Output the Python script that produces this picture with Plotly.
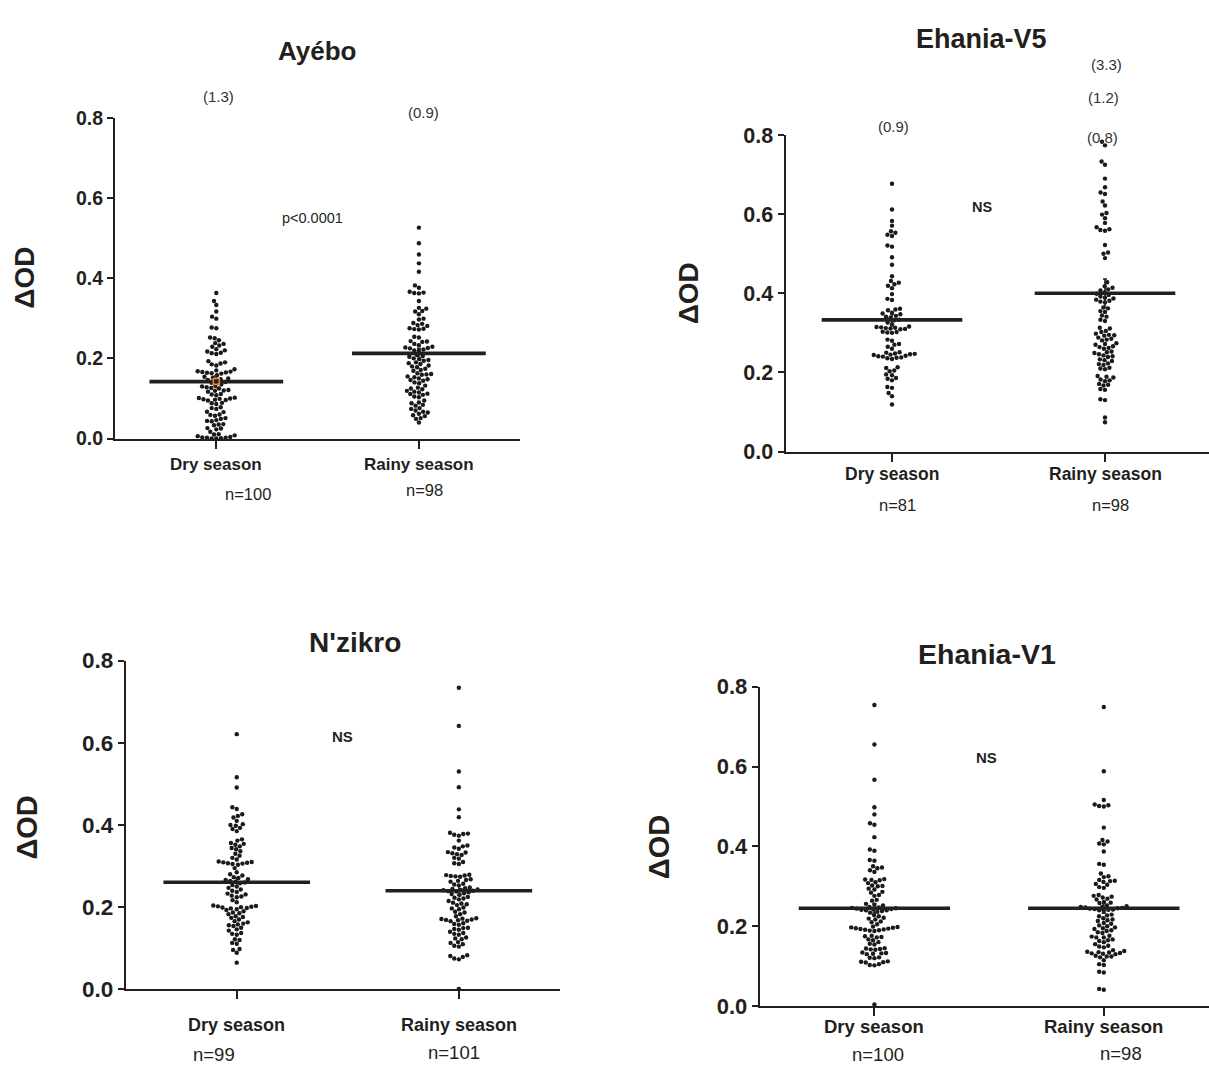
import numpy as np
import plotly.graph_objects as go

W, H = 1209, 1076

categories = ["Dry season", "Rainy season"]
sites = ["Ayébo", "Ehania-V5", "N'zikro", "Ehania-V1"]
tests = ["p<0.0001", "NS", "NS", "NS"]
y_ticks = [0.0, 0.2, 0.4, 0.6, 0.8]
y_tick_labels = ["0.0", "0.2", "0.4", "0.6", "0.8"]
y_title = "ΔOD"

ayebo_dry = [0.363, 0.343, 0.333, 0.317, 0.304, 0.299, 0.277, 0.275, 0.252, 0.250, 0.245, 0.238, 0.236, 0.232,
             0.229, 0.223, 0.220, 0.217, 0.214, 0.213, 0.211, 0.193, 0.190, 0.187, 0.185, 0.182, 0.173, 0.170,
             0.168, 0.167, 0.166, 0.165, 0.164, 0.163, 0.162, 0.158, 0.154, 0.152, 0.150, 0.148, 0.146, 0.144,
             0.141, 0.139, 0.135, 0.132, 0.130, 0.128, 0.126, 0.125, 0.121, 0.120, 0.119, 0.117, 0.111, 0.110,
             0.108, 0.102, 0.101, 0.100, 0.099, 0.098, 0.097, 0.096, 0.095, 0.089, 0.088, 0.086, 0.078, 0.076,
             0.074, 0.067, 0.066, 0.060, 0.059, 0.057, 0.051, 0.049, 0.046, 0.044, 0.043, 0.036, 0.035, 0.033,
             0.026, 0.025, 0.023, 0.017, 0.011, 0.010, 0.008, 0.006, 0.004, 0.003, 0.002, 0.002, 0.001, 0.000,
             0.000, 1.3]
ayebo_rainy = [0.526, 0.487, 0.459, 0.437, 0.416, 0.382, 0.376, 0.366, 0.364, 0.363, 0.362, 0.343, 0.326, 0.324,
               0.318, 0.317, 0.310, 0.299, 0.297, 0.288, 0.286, 0.283, 0.281, 0.275, 0.274, 0.273, 0.272, 0.254,
               0.252, 0.243, 0.242, 0.241, 0.236, 0.233, 0.229, 0.227, 0.226, 0.225, 0.222, 0.220, 0.219, 0.208,
               0.206, 0.204, 0.200, 0.198, 0.196, 0.194, 0.190, 0.188, 0.186, 0.182, 0.180, 0.178, 0.174, 0.171,
               0.169, 0.163, 0.161, 0.160, 0.159, 0.155, 0.153, 0.150, 0.148, 0.146, 0.144, 0.140, 0.138, 0.132,
               0.127, 0.125, 0.123, 0.119, 0.117, 0.115, 0.112, 0.111, 0.109, 0.105, 0.103, 0.095, 0.090, 0.088,
               0.084, 0.082, 0.076, 0.074, 0.070, 0.067, 0.065, 0.062, 0.058, 0.056, 0.051, 0.049, 0.040, 0.9]

v5_dry = [0.677, 0.612, 0.583, 0.571, 0.557, 0.553, 0.548, 0.545, 0.521, 0.518, 0.491, 0.472, 0.443, 0.431, 0.427,
          0.423, 0.419, 0.413, 0.398, 0.386, 0.383, 0.361, 0.359, 0.357, 0.351, 0.349, 0.347, 0.343, 0.341, 0.339,
          0.333, 0.332, 0.326, 0.322, 0.316, 0.315, 0.314, 0.313, 0.312, 0.311, 0.310, 0.309, 0.303, 0.302, 0.301,
          0.300, 0.283, 0.280, 0.272, 0.270, 0.265, 0.260, 0.251, 0.250, 0.248, 0.247, 0.246, 0.245, 0.244, 0.242,
          0.241, 0.240, 0.238, 0.237, 0.236, 0.234, 0.213, 0.211, 0.205, 0.203, 0.195, 0.193, 0.186, 0.184, 0.180,
          0.163, 0.161, 0.148, 0.140, 0.119, 0.9]
v5_rainy = [0.783, 0.774, 0.733, 0.725, 0.690, 0.668, 0.655, 0.651, 0.632, 0.622, 0.603, 0.599, 0.590, 0.578,
            0.567, 0.562, 0.560, 0.558, 0.522, 0.503, 0.500, 0.489, 0.428, 0.418, 0.414, 0.410, 0.407, 0.402,
            0.399, 0.396, 0.392, 0.389, 0.387, 0.384, 0.381, 0.379, 0.377, 0.364, 0.362, 0.355, 0.353, 0.344,
            0.341, 0.333, 0.330, 0.313, 0.311, 0.305, 0.302, 0.298, 0.295, 0.294, 0.293, 0.288, 0.285, 0.283,
            0.281, 0.274, 0.272, 0.270, 0.266, 0.264, 0.262, 0.260, 0.253, 0.251, 0.249, 0.246, 0.243, 0.241,
            0.239, 0.233, 0.231, 0.229, 0.223, 0.221, 0.219, 0.212, 0.210, 0.208, 0.191, 0.189, 0.187, 0.182,
            0.180, 0.178, 0.171, 0.169, 0.167, 0.158, 0.156, 0.132, 0.130, 0.086, 0.074, 0.84, 1.24, 3.34]

nzikro_dry = [0.621, 0.516, 0.491, 0.443, 0.439, 0.426, 0.422, 0.418, 0.410, 0.402, 0.400, 0.398, 0.393, 0.390,
              0.385, 0.365, 0.362, 0.356, 0.354, 0.352, 0.348, 0.344, 0.341, 0.336, 0.330, 0.325, 0.320, 0.316,
              0.311, 0.310, 0.309, 0.308, 0.307, 0.306, 0.305, 0.303, 0.295, 0.285, 0.280, 0.277, 0.273, 0.271,
              0.268, 0.266, 0.264, 0.262, 0.260, 0.258, 0.254, 0.250, 0.247, 0.243, 0.240, 0.237, 0.233, 0.231,
              0.228, 0.226, 0.224, 0.217, 0.212, 0.204, 0.203, 0.202, 0.201, 0.200, 0.199, 0.198, 0.197, 0.195,
              0.193, 0.190, 0.187, 0.185, 0.183, 0.178, 0.176, 0.174, 0.170, 0.166, 0.163, 0.160, 0.158, 0.156,
              0.154, 0.150, 0.146, 0.143, 0.137, 0.135, 0.133, 0.122, 0.120, 0.113, 0.111, 0.098, 0.096, 0.089,
              0.065]
nzikro_rainy = [0.734, 0.641, 0.530, 0.492, 0.438, 0.419, 0.381, 0.379, 0.378, 0.376, 0.374, 0.362, 0.350, 0.348,
                0.345, 0.342, 0.334, 0.333, 0.331, 0.329, 0.327, 0.320, 0.318, 0.310, 0.307, 0.305, 0.279, 0.278,
                0.277, 0.276, 0.275, 0.274, 0.268, 0.266, 0.264, 0.262, 0.257, 0.255, 0.253, 0.248, 0.246, 0.244,
                0.243, 0.242, 0.241, 0.240, 0.239, 0.238, 0.236, 0.234, 0.232, 0.230, 0.225, 0.223, 0.221, 0.219,
                0.215, 0.211, 0.209, 0.207, 0.205, 0.199, 0.197, 0.195, 0.189, 0.187, 0.183, 0.178, 0.173, 0.172,
                0.171, 0.170, 0.169, 0.168, 0.167, 0.166, 0.161, 0.159, 0.157, 0.150, 0.149, 0.147, 0.145, 0.140,
                0.137, 0.135, 0.133, 0.126, 0.124, 0.122, 0.115, 0.113, 0.110, 0.106, 0.104, 0.083, 0.081, 0.079,
                0.075, 0.073, 0.001]

v1_dry = [0.754, 0.655, 0.567, 0.498, 0.480, 0.458, 0.454, 0.423, 0.392, 0.389, 0.366, 0.364, 0.350, 0.347, 0.345,
          0.340, 0.336, 0.318, 0.317, 0.316, 0.315, 0.310, 0.308, 0.302, 0.301, 0.300, 0.294, 0.292, 0.286, 0.284,
          0.278, 0.276, 0.266, 0.264, 0.256, 0.254, 0.252, 0.248, 0.247, 0.246, 0.245, 0.244, 0.243, 0.242, 0.241,
          0.240, 0.240, 0.238, 0.236, 0.234, 0.228, 0.225, 0.221, 0.219, 0.217, 0.212, 0.210, 0.205, 0.199, 0.198,
          0.197, 0.196, 0.195, 0.194, 0.193, 0.192, 0.191, 0.190, 0.189, 0.188, 0.176, 0.175, 0.173, 0.172, 0.167,
          0.165, 0.160, 0.156, 0.154, 0.145, 0.144, 0.143, 0.142, 0.141, 0.134, 0.133, 0.132, 0.131, 0.130, 0.122,
          0.121, 0.120, 0.112, 0.111, 0.110, 0.109, 0.105, 0.103, 0.102, 0.004]
v1_rainy = [0.749, 0.588, 0.516, 0.505, 0.503, 0.501, 0.500, 0.447, 0.416, 0.412, 0.407, 0.405, 0.387, 0.356, 0.354,
            0.332, 0.325, 0.323, 0.316, 0.314, 0.313, 0.311, 0.306, 0.304, 0.298, 0.296, 0.278, 0.276, 0.274,
            0.272, 0.269, 0.267, 0.261, 0.259, 0.258, 0.252, 0.250, 0.249, 0.248, 0.247, 0.246, 0.245, 0.244,
            0.243, 0.242, 0.241, 0.240, 0.238, 0.229, 0.227, 0.225, 0.220, 0.217, 0.215, 0.213, 0.208, 0.206,
            0.202, 0.200, 0.197, 0.195, 0.193, 0.190, 0.188, 0.185, 0.183, 0.176, 0.174, 0.172, 0.172, 0.167,
            0.165, 0.163, 0.160, 0.155, 0.151, 0.149, 0.147, 0.140, 0.138, 0.136, 0.135, 0.134, 0.133, 0.132,
            0.131, 0.130, 0.126, 0.124, 0.124, 0.122, 0.115, 0.105, 0.103, 0.086, 0.084, 0.043, 0.041]

series = [(ayebo_dry, ayebo_rainy), (v5_dry, v5_rainy), (nzikro_dry, nzikro_rainy), (v1_dry, v1_rainy)]

# ---------------- layout geometry (pixels) ----------------
INK = "#231f20"
FONT = "Arial, 'Liberation Sans', sans-serif"
panels = [
    dict(ax=115.0, end=520.0, y0=436.7, y8=108.3, spacing=202.6, tick=19.5, cat=17, nf=16.5, tf=26,
         title=(317.5, 40), stat=(312, 211), stat_bold=False, stat_size=14.5, ylab=(25, 272), ylab_size=28,
         cat_y=463, n_pos=[(248, 493), (424, 489)], out_pos=[[(218, 87)], [(423, 103)]]),
    dict(ax=785.5, end=1209.0, y0=450.0, y8=126.0, spacing=213.0, tick=21.5, cat=17.5, nf=16.5, tf=27,
         title=(981.5, 28), stat=(982, 200), stat_bold=True, stat_size=14.5, ylab=(688, 288), ylab_size=28,
         cat_y=473, n_pos=[(897, 505), (1110, 505)], out_pos=[[(893.5, 117)], [(1102, 128), (1103.5, 88), (1106, 54)]]),
    dict(ax=125.7, end=560.0, y0=1000.6, y8=664.0, spacing=222.1, tick=22.5, cat=18, nf=18.5, tf=28,
         title=(355, 645), stat=(342, 742), stat_bold=True, stat_size=15, ylab=(27, 835), ylab_size=29,
         cat_y=1037, n_pos=[(214, 1067), (453.6, 1065)], out_pos=[[], []]),
    dict(ax=759.7, end=1209.0, y0=1017.7, y8=690.7, spacing=229.4, tick=22, cat=18.5, nf=18.5, tf=28.5,
         title=(986.5, 657), stat=(986.5, 763), stat_bold=True, stat_size=15, ylab=(659, 855), ylab_size=29,
         cat_y=1039, n_pos=[(877.7, 1067), (1121, 1066)], out_pos=[[], []]),
]
HALF = 0.33        # half-width of the mean bar, in category units
DOT = 4.4          # marker diameter (px)
GAP = 4.7          # collision distance for the swarm (px)


def px(x):
    return x / W


def py(y):
    return 1 - y / H


def swarm(ypix, d):
    """Beeswarm offsets (px) for a set of vertical pixel positions."""
    order = np.argsort(ypix)
    xs = np.zeros(len(ypix))
    placed = []
    for i in order:
        y = ypix[i]
        iv = []
        for (qx, qy) in placed:
            dy = abs(qy - y)
            if dy < d:
                dx = np.sqrt(d * d - dy * dy)
                iv.append((qx - dx, qx + dx))
        cands = [0.0] + [a for a, b in iv] + [b for a, b in iv]
        cands.sort(key=lambda c: (abs(c), c))
        x = 0.0
        for c in cands:
            if all(not (a + 1e-7 < c < b - 1e-7) for a, b in iv):
                x = c
                break
        xs[i] = x
        placed.append((x, y))
    return xs


fig = go.Figure()
annotations = []
layout_axes = {}

for k, (p, site, test, pair) in enumerate(zip(panels, sites, tests, series), start=1):
    spacing = p["spacing"]
    y_per = (p["y0"] - p["y8"]) / 0.8
    xr_end = (p["end"] - p["ax"]) / spacing
    xa = "x" if k == 1 else f"x{k}"
    ya = "y" if k == 1 else f"y{k}"
    layout_axes["xaxis" if k == 1 else f"xaxis{k}"] = dict(
        domain=[px(p["ax"]), px(p["end"])], range=[0, xr_end], anchor=ya,
        tickvals=[0.5, 1.5], showticklabels=False, ticks="outside", ticklen=8, tickwidth=2, tickcolor=INK,
        showline=True, linewidth=2, linecolor=INK, showgrid=False, zeroline=False, fixedrange=True)
    layout_axes["yaxis" if k == 1 else f"yaxis{k}"] = dict(
        domain=[py(p["y0"]), py(p["y8"])], range=[0, 0.8], anchor=xa,
        tickvals=y_ticks, ticktext=y_tick_labels, ticks="outside", ticklen=6, tickwidth=2, tickcolor=INK,
        tickfont=dict(family=FONT, size=p["tick"], color=INK, weight="bold"),
        showline=True, linewidth=2, linecolor=INK, showgrid=False, zeroline=False, fixedrange=True)

    for j, (cat, vals) in enumerate(zip(categories, pair)):
        c = 0.5 + j
        arr = np.array(vals, dtype=float)
        shown = arr[arr <= 0.8]
        offs = swarm(shown * y_per, GAP) / spacing
        fig.add_trace(go.Scatter(
            x=c + offs, y=shown, xaxis=xa, yaxis=ya, mode="markers", cliponaxis=False,
            marker=dict(size=DOT, color="#1a1a1a", line=dict(width=0)), hoverinfo="y", showlegend=False))
        mean = float(arr.mean())
        sem = float(arr.std(ddof=1) / np.sqrt(len(arr)))
        fig.add_trace(go.Scatter(
            x=[c], y=[mean], xaxis=xa, yaxis=ya, mode="markers", cliponaxis=False,
            marker=dict(size=2, color="rgba(0,0,0,0)"),
            error_y=dict(type="data", array=[sem], width=2, thickness=1.6, color=INK),
            hoverinfo="skip", showlegend=False))
        fig.add_trace(go.Scatter(
            x=[c - HALF, c + HALF], y=[mean, mean], xaxis=xa, yaxis=ya, mode="lines", cliponaxis=False,
            line=dict(color=INK, width=3.6), hoverinfo="skip", showlegend=False))
        if k == 1 and j == 0:
            fig.add_trace(go.Scatter(
                x=[c], y=[mean], xaxis=xa, yaxis=ya, mode="markers", cliponaxis=False,
                marker=dict(symbol="square-open", size=6, color="#e8862a", line=dict(width=1.5)),
                hoverinfo="skip", showlegend=False))
        annotations.append(dict(x=px(p["ax"] + c * spacing), y=py(p["cat_y"]), xref="paper", yref="paper",
                                text=cat, showarrow=False, xanchor="center", yanchor="middle",
                                font=dict(family=FONT, size=p["cat"], color=INK, weight="bold")))
        nx, ny = p["n_pos"][j]
        annotations.append(dict(x=px(nx), y=py(ny), xref="paper", yref="paper", text=f"n={len(arr)}",
                                showarrow=False, xanchor="center", yanchor="middle",
                                font=dict(family=FONT, size=p["nf"], color=INK)))
        off = sorted(arr[arr > 0.8])
        for v, (ox, oy) in zip(off, p["out_pos"][j]):
            annotations.append(dict(x=px(ox), y=py(oy), xref="paper", yref="paper", text=f"({v:.1f})",
                                    showarrow=False, xanchor="center", yanchor="middle",
                                    font=dict(family=FONT, size=15, color="#333333")))

    annotations.append(dict(x=px(p["title"][0]), y=py(p["title"][1]), xref="paper", yref="paper", text=site,
                            showarrow=False, xanchor="center", yanchor="middle",
                            font=dict(family=FONT, size=p["tf"], color=INK, weight="bold")))
    annotations.append(dict(x=px(p["stat"][0]), y=py(p["stat"][1]), xref="paper", yref="paper", text=test,
                            showarrow=False, xanchor="center", yanchor="middle",
                            font=dict(family=FONT, size=p["stat_size"], color=INK,
                                      weight="bold" if p["stat_bold"] else "normal")))
    annotations.append(dict(x=px(p["ylab"][0]), y=py(p["ylab"][1]), xref="paper", yref="paper", text=y_title,
                            showarrow=False, xanchor="center", yanchor="middle", textangle=-90,
                            font=dict(family=FONT, size=p["ylab_size"], color=INK, weight="bold")))

fig.update_layout(
    width=W, height=H, margin=dict(l=0, r=0, t=0, b=0),
    paper_bgcolor="white", plot_bgcolor="white",
    font=dict(family=FONT, color=INK), annotations=annotations, showlegend=False,
    **layout_axes)

fig.write_html("out.html", config={"displayModeBar": False},
               post_script="document.body.style.margin='0px';document.body.style.overflow='hidden';")
